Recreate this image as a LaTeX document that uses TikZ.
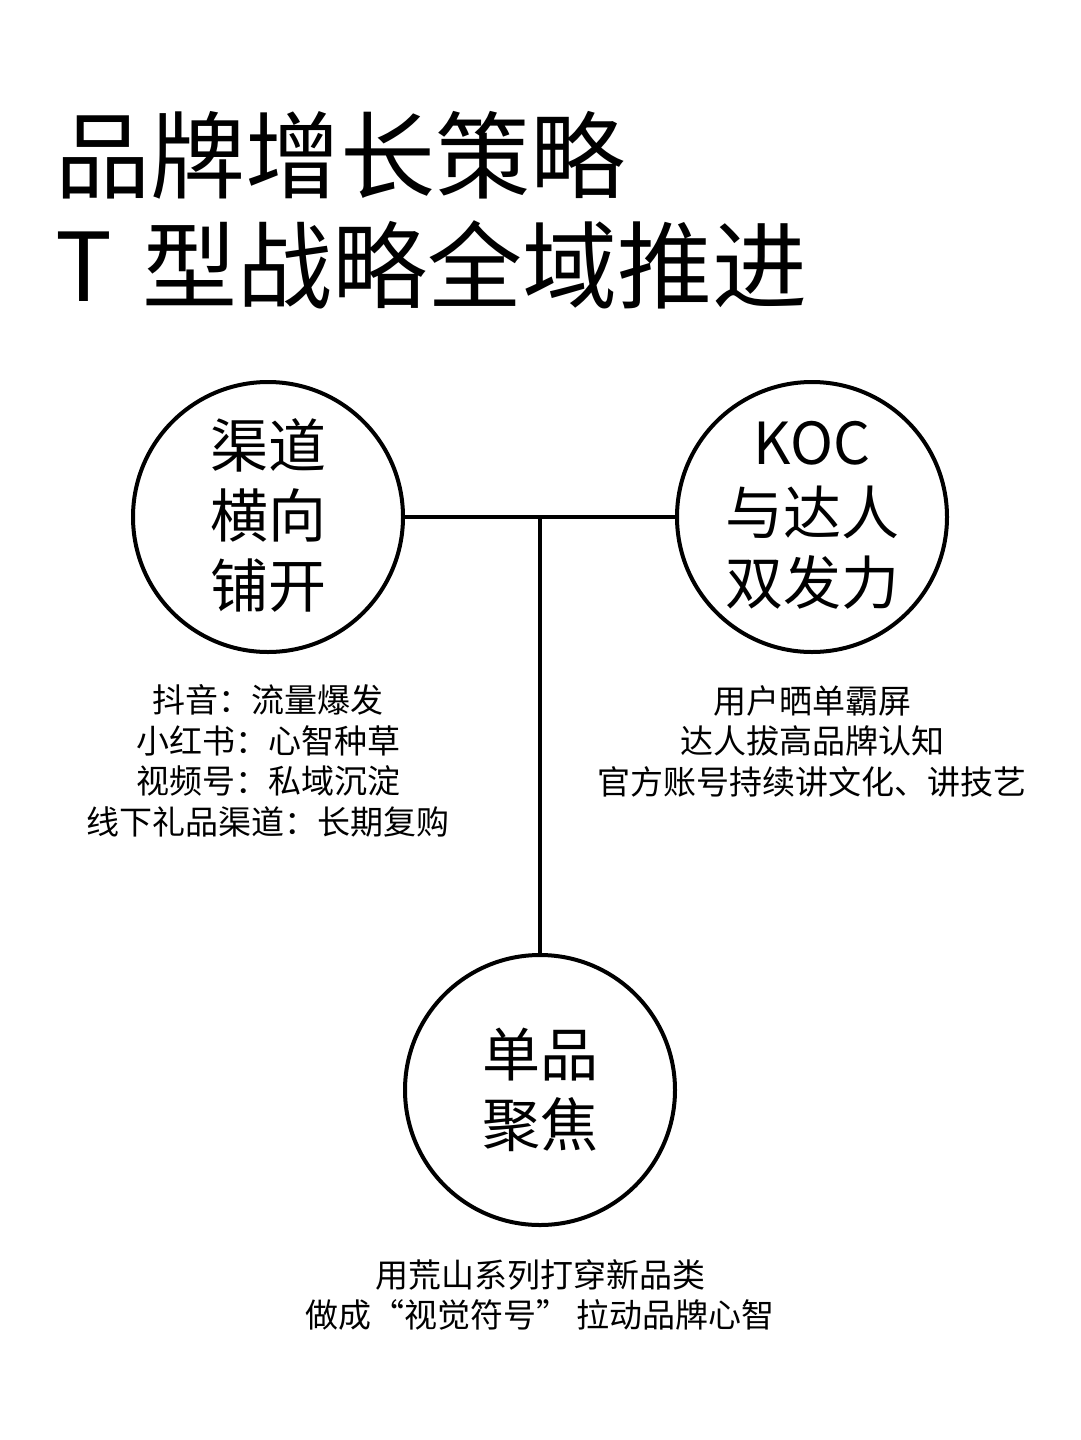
\documentclass[tikz,border=0pt]{standalone}
\usepackage{fontspec}
\setmainfont{Noto Sans CJK SC}
\begin{document}
\begin{tikzpicture}[x=1pt,y=-1pt,
  circ/.style={draw,line width=4pt,circle,minimum size=270pt,inner sep=0pt},
  big/.style={align=center,font=\fontsize{58}{70}\selectfont},
  small/.style={align=center,font=\fontsize{33}{40.5}\selectfont},
  ttl/.style={anchor=west,font=\fontsize{95}{100}\selectfont},
  ln/.style={line width=4pt}]
\useasboundingbox (0,0) rectangle (1080,1440);
\node[ttl] (t1) at (52,155) {品牌增长策略};
\node[ttl] (t2) at (52,265) {T\hspace{30pt}型战略全域推进};
\node[circ] (a) at (268,517) {};
\node[circ] (b) at (812,517) {};
\node[circ] (c) at (540,1090) {};
\node[big] (at) at (268,515) {渠道\\横向\\铺开};
\node[big] (bt) at (812,515) {KOC\\与达人\\双发力};
\node[big] (ct) at (540,1090) {单品\\聚焦};
\coordinate (j) at (540,517);
\draw[ln] (a.east) -- (b.west);
\draw[ln] (j) -- (540,953) coordinate (e);
\node[small] (al) at (268,761) {抖音：流量爆发\\小红书：心智种草\\视频号：私域沉淀\\线下礼品渠道：长期复购};
\node[small] (bl) at (812,741) {用户晒单霸屏\\达人拔高品牌认知\\官方账号持续讲文化、讲技艺};
\node[small] (cl) at (540,1295) {用荒山系列打穿新品类\\做成“视觉符号” 拉动品牌心智};
\end{tikzpicture}
\end{document}
